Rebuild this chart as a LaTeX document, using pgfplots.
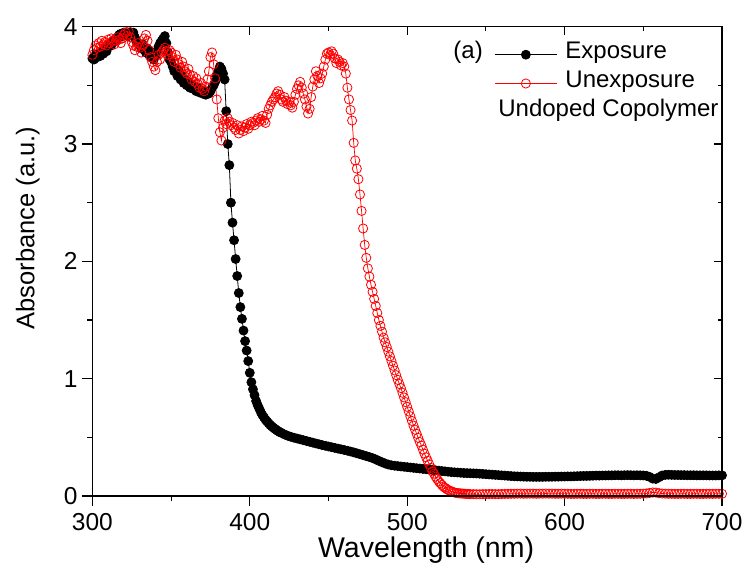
\documentclass[border=0pt]{standalone}
\usepackage{pgfplots}
\pgfplotsset{compat=1.18}
\usepackage{fontspec}
\setmainfont{Liberation Sans}
\begin{document}
\begin{tikzpicture}
\useasboundingbox (-92.4pt,-67pt) rectangle (650.6pt,496pt);
\begin{axis}[
  at={(0,0)}, anchor=south west,
  scale only axis, width=629.6pt, height=469.3pt,
  xmin=300, xmax=700, ymin=0, ymax=4,
  xtick={300,400,...,700}, ytick={0,1,2,3,4},
  minor x tick num=1, minor y tick num=1,
  xtick pos=left, ytick pos=left,
  tick align=outside,
  major tick length=10pt, minor tick length=5pt,
  axis line style={line width=1.2pt},
  tick style={black, line width=1.1pt},
  /pgf/number format/assume math mode=true,
  ticklabel style={font=\fontsize{24.5}{29}\selectfont, inner sep=0pt},
  xticklabel shift=7pt, yticklabel shift=4.6pt,
  xlabel={Wavelength (nm)},
  xlabel style={font=\fontsize{28.5}{34}\selectfont, at={(axis description cs:0.53,-0.1300)}, anchor=base, inner sep=0pt},
  ylabel={Absorbance (a.u.)},
  ylabel style={font=\fontsize{25.5}{30}\selectfont, at={(axis description cs:-0.0920,0.571)}, anchor=base, inner sep=0pt},
  legend style={at={(axis description cs:0.6383,0.971)}, anchor=north west, draw=none, fill=none, inner sep=0pt, outer sep=0pt, column sep=8pt, row sep=0pt, font=\fontsize{24}{29}\selectfont, nodes={inner sep=0pt, text height=18pt, text depth=10.8pt}},
  legend cell align=left,
  legend image code/.code={\draw[#1,mark repeat=2,mark phase=2] plot coordinates {(0pt,0pt)(31.2pt,0pt)(62.4pt,0pt)};},
]
\addplot[black, line width=0.8pt, mark=*, mark size=4.5pt, mark options={solid, fill=black}] coordinates {
(300,3.73)(301,3.72)(302,3.76)(303,3.74)(304,3.77)(305,3.75)(306,3.79)(307,3.77)(308,3.81)(309,3.79)
(310,3.83)(311,3.85)(312,3.84)(313,3.87)(314,3.89)(315,3.88)(316,3.91)(317,3.93)(318,3.94)(319,3.92)
(320,3.95)(321,3.93)(322,3.94)(323,3.92)(324,3.95)(325,3.93)(326,3.95)(327,3.91)(328,3.88)(329,3.86)
(330,3.84)(331,3.82)(332,3.85)(333,3.80)(334,3.78)(335,3.81)(336,3.76)(337,3.74)(338,3.78)(339,3.72)
(340,3.75)(341,3.79)(342,3.83)(343,3.86)(344,3.88)(345,3.90)(346,3.92)(347,3.86)(348,3.78)(349,3.72)
(350,3.70)(351,3.66)(352,3.62)(353,3.64)(354,3.58)(355,3.62)(356,3.55)(357,3.58)(358,3.52)(359,3.55)
(360,3.50)(361,3.53)(362,3.48)(363,3.51)(364,3.47)(365,3.49)(366,3.45)(367,3.48)(368,3.44)(369,3.46)
(370,3.43)(371,3.45)(372,3.42)(373,3.44)(374,3.43)(375,3.45)(376,3.48)(377,3.50)(378,3.53)(379,3.58)
(380,3.62)(381,3.66)(382,3.64)(383,3.60)(384,3.55)(385,3.28)(386,3.00)(387,2.82)(388,2.50)(389,2.33)
(390,2.18)(391,2.02)(392,1.875)(393,1.73)(394,1.61)(395,1.51)(396,1.41)(397,1.32)(398,1.24)(399,1.15)
(400,1.05)(401,0.97)(402,0.91)(403,0.86)(404,0.81)(405,0.775)(406,0.745)(407,0.715)(408,0.69)(409,0.67)
(410,0.65)(411,0.635)(412,0.62)(413,0.605)(414,0.593)(415,0.582)(416,0.572)(417,0.562)(418,0.553)(419,0.545)
(420,0.538)(422,0.525)(424,0.514)(426,0.505)(428,0.497)(430,0.490)(432,0.483)(434,0.476)(436,0.469)(438,0.462)
(440,0.455)(442,0.448)(444,0.441)(446,0.434)(448,0.428)(450,0.422)(452,0.416)(454,0.410)(456,0.404)(458,0.398)
(460,0.392)(462,0.386)(464,0.379)(466,0.372)(468,0.364)(470,0.356)(472,0.348)(474,0.340)(476,0.332)(478,0.323)
(480,0.312)(482,0.300)(484,0.288)(486,0.277)(488,0.268)(490,0.262)(492,0.258)(494,0.255)(496,0.252)(498,0.249)
(500,0.246)(502,0.243)(504,0.240)(506,0.237)(508,0.234)(510,0.231)(512,0.228)(514,0.225)(516,0.222)(518,0.219)
(520,0.216)(522,0.213)(524,0.210)(526,0.207)(528,0.204)(530,0.202)(532,0.200)(534,0.198)(536,0.196)(538,0.195)
(540,0.194)(542,0.193)(544,0.192)(546,0.190)(548,0.188)(550,0.186)(552,0.184)(554,0.182)(556,0.180)(558,0.178)
(560,0.176)(562,0.174)(564,0.172)(566,0.170)(568,0.168)(570,0.167)(572,0.166)(574,0.165)(576,0.164)(578,0.164)
(580,0.163)(582,0.163)(584,0.163)(586,0.163)(588,0.164)(590,0.164)(592,0.164)(594,0.165)(596,0.165)(598,0.166)
(600,0.166)(602,0.167)(604,0.167)(606,0.168)(608,0.169)(610,0.170)(612,0.171)(614,0.171)(616,0.172)(618,0.173)
(620,0.174)(622,0.174)(624,0.175)(626,0.175)(628,0.176)(630,0.176)(632,0.177)(634,0.177)(636,0.176)(638,0.177)
(640,0.178)(642,0.177)(644,0.176)(646,0.177)(648,0.176)(650,0.175)(652,0.172)(654,0.163)(656,0.148)(658,0.145)
(660,0.160)(662,0.175)(664,0.180)(666,0.181)(668,0.180)(670,0.179)(672,0.179)(674,0.178)(676,0.178)(678,0.177)
(680,0.177)(682,0.177)(684,0.176)(686,0.176)(688,0.176)(690,0.176)(692,0.175)(694,0.175)(696,0.175)(698,0.176)
(700,0.176)
};
\addlegendentry{Exposure}
\addplot[red, line width=0.7pt, mark=o, mark size=4.6pt, mark options={solid, fill=white, line width=0.8pt}] coordinates {
(300,3.76)(301,3.80)(302,3.84)(303,3.82)(304,3.86)(305,3.83)(306,3.88)(307,3.85)(308,3.87)(309,3.84)
(310,3.89)(311,3.86)(312,3.90)(313,3.88)(314,3.85)(315,3.88)(316,3.91)(317,3.89)(318,3.86)(319,3.90)
(320,3.93)(321,3.95)(322,3.92)(323,3.96)(324,3.91)(325,3.87)(326,3.84)(327,3.80)(328,3.83)(329,3.86)
(330,3.82)(331,3.78)(332,3.84)(333,3.90)(334,3.93)(335,3.88)(336,3.80)(337,3.74)(338,3.70)(339,3.66)
(340,3.63)(341,3.70)(342,3.76)(343,3.72)(344,3.78)(345,3.80)(346,3.82)(347,3.79)(348,3.76)(349,3.80)
(350,3.78)(351,3.74)(352,3.70)(353,3.76)(354,3.72)(355,3.68)(356,3.65)(357,3.70)(358,3.66)(359,3.62)
(360,3.60)(361,3.64)(362,3.59)(363,3.55)(364,3.58)(365,3.53)(366,3.56)(367,3.51)(368,3.48)(369,3.52)
(370,3.47)(371,3.45)(372,3.49)(373,3.55)(374,3.62)(375,3.74)(376,3.78)(377,3.68)(378,3.56)(379,3.38)
(380,3.22)(381,3.10)(382,3.03)(383,3.14)(384,3.20)(385,3.17)(386,3.22)(387,3.19)(388,3.16)(389,3.18)
(390,3.14)(391,3.12)(392,3.16)(393,3.09)(394,3.12)(395,3.15)(396,3.11)(397,3.14)(398,3.17)(399,3.13)
(400,3.16)(401,3.19)(402,3.18)(403,3.16)(404,3.20)(405,3.22)(406,3.19)(407,3.21)(408,3.24)(409,3.20)
(410,3.18)(411,3.25)(412,3.30)(413,3.33)(414,3.36)(415,3.38)(416,3.40)(417,3.43)(418,3.45)(419,3.42)
(420,3.38)(421,3.36)(422,3.40)(423,3.37)(424,3.34)(425,3.36)(426,3.33)(427,3.31)(428,3.36)(429,3.42)
(430,3.47)(431,3.50)(432,3.53)(433,3.48)(434,3.43)(435,3.38)(436,3.32)(437,3.26)(438,3.30)(439,3.40)
(440,3.49)(441,3.55)(442,3.62)(443,3.58)(444,3.52)(445,3.56)(446,3.60)(447,3.66)(448,3.72)(449,3.77)
(450,3.78)(451,3.76)(452,3.79)(453,3.77)(454,3.73)(455,3.69)(456,3.72)(457,3.70)(458,3.67)(459,3.69)
(460,3.66)(461,3.60)(462,3.48)(463,3.38)(464,3.29)(465,3.20)(466,3.01)(467,2.86)(468,2.79)(469,2.70)
(470,2.57)(471,2.43)(472,2.28)(473,2.14)(474,2.03)(475,1.94)(476,1.87)(477,1.80)(478,1.74)(479,1.68)
(480,1.62)(481,1.56)(482,1.50)(483,1.45)(484,1.40)(485,1.35)(486,1.31)(487,1.27)(488,1.23)(489,1.19)
(490,1.15)(491,1.11)(492,1.07)(493,1.03)(494,0.99)(495,0.955)(496,0.92)(497,0.88)(498,0.84)(499,0.80)
(500,0.76)(501,0.72)(502,0.68)(503,0.64)(504,0.60)(505,0.565)(506,0.53)(507,0.495)(508,0.46)(509,0.43)
(510,0.395)(511,0.36)(512,0.33)(513,0.30)(514,0.27)(515,0.24)(516,0.21)(517,0.19)(518,0.165)(519,0.145)
(520,0.125)(521,0.11)(522,0.095)(523,0.08)(524,0.07)(525,0.06)(526,0.052)(527,0.045)(528,0.04)(529,0.035)
(530,0.03)(531,0.027)(532,0.025)(533,0.023)(534,0.022)(535,0.021)(536,0.02)(537,0.019)(538,0.018)(539,0.017)
(540,0.016)(542,0.016)(544,0.015)(546,0.015)(548,0.016)(550,0.016)(552,0.017)(554,0.017)(556,0.016)(558,0.016)
(560,0.017)(562,0.018)(564,0.018)(566,0.019)(568,0.019)(570,0.020)(572,0.020)(574,0.019)(576,0.020)(578,0.020)
(580,0.020)(582,0.019)(584,0.020)(586,0.020)(588,0.021)(590,0.020)(592,0.020)(594,0.019)(596,0.019)(598,0.020)
(600,0.019)(602,0.019)(604,0.018)(606,0.018)(608,0.019)(610,0.019)(612,0.018)(614,0.018)(616,0.019)(618,0.019)
(620,0.018)(622,0.018)(624,0.019)(626,0.019)(628,0.018)(630,0.018)(632,0.019)(634,0.019)(636,0.018)(638,0.018)
(640,0.019)(642,0.019)(644,0.018)(646,0.019)(648,0.019)(650,0.020)(652,0.022)(654,0.026)(656,0.030)(658,0.029)
(660,0.024)(662,0.021)(664,0.020)(666,0.019)(668,0.019)(670,0.018)(672,0.018)(674,0.019)(676,0.019)(678,0.018)
(680,0.018)(682,0.019)(684,0.019)(686,0.018)(688,0.018)(690,0.019)(692,0.019)(694,0.018)(696,0.019)(698,0.019)
(700,0.019)
};
\addlegendentry{Unexposure}
\node[anchor=base east, inner sep=0pt, font=\fontsize{24}{29}\selectfont] at (axis description cs:0.6204,0.9327) {(a)};
\node[anchor=base west, inner sep=0pt, font=\fontsize{24}{29}\selectfont] at (axis description cs:0.6445,0.8097) {Undoped Copolymer};
\end{axis}
\begin{axis}[
  at={(0,0)}, anchor=south west,
  scale only axis, width=629.6pt, height=469.3pt,
  xmin=300, xmax=700, ymin=0, ymax=4,
  xtick={300,400,...,700}, ytick={0,1,2,3,4},
  minor x tick num=1, minor y tick num=1,
  xtick pos=right, ytick pos=right,
  tick align=inside,
  major tick length=8pt, minor tick length=4pt,
  xticklabels={}, yticklabels={},
  axis line style={line width=1.2pt},
  tick style={black, line width=1.1pt},
]
\end{axis}
\end{tikzpicture}
\end{document}
